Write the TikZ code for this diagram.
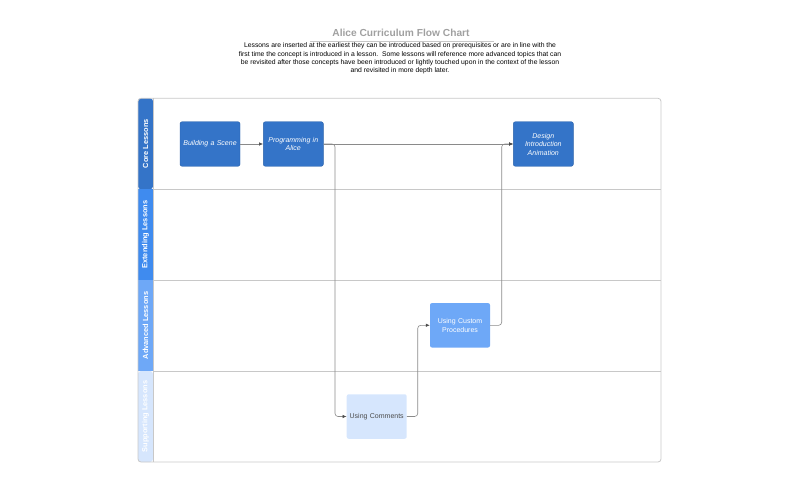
\documentclass[tikz,border=0pt]{standalone}
\usepackage{fontspec}
\setmainfont{Liberation Sans}
\usetikzlibrary{arrows.meta}
\definecolor{coreC}{HTML}{3474C8}
\definecolor{extC}{HTML}{3F8BEF}
\definecolor{advC}{HTML}{6EA8F7}
\definecolor{supC}{HTML}{D6E6FD}
\definecolor{lineC}{HTML}{C8C8C8}
\definecolor{connC}{HTML}{8A8A8A}
\definecolor{titleC}{HTML}{A0A0A0}
\tikzset{
  lesson/.style={rectangle, rounded corners=2pt, minimum width=60pt, minimum height=44.5pt, inner sep=1pt, align=center, text width=56pt, font=\fontsize{7}{8.5}\selectfont},
  corebox/.style={lesson, fill=coreC, draw=coreC!85!black, line width=0.4pt, text=white, font=\fontsize{7}{8.5}\selectfont\itshape},
  advbox/.style={lesson, fill=advC, text=white},
  supbox/.style={lesson, fill=supC, text=black!70},
  lanelabel/.style={rotate=90, text=white, font=\fontsize{7.4}{8}\selectfont\bfseries},
  conn/.style={draw=connC, line width=0.6pt, rounded corners=3pt, -{Latex[length=4pt,width=3.5pt,black!70]}},
}
\begin{document}
\begin{tikzpicture}[x=1pt,y=-1pt]
\useasboundingbox (0,0) rectangle (800,500);
% title
\node (title) at (401,33) {\fontsize{10.2}{12}\selectfont\bfseries\color{titleC}Alice Curriculum Flow Chart};
\draw[lineC, line width=0.6pt] (310,41) -- (494,41);
\node[align=center, font=\fontsize{6.8}{8.3}\selectfont] (desc) at (400,58.5) {Lessons are inserted at the earliest they can be introduced based on prerequisites or are in line with the\\first time the concept is introduced in a lesson.\ \ Some lessons will reference more advanced topics that can\\be revisited after those concepts have been introduced or lightly touched upon in the context of the lesson\\and revisited in more depth later.};
% lane headers
\fill[coreC, rounded corners=3pt] (138,189.3) -- (138,98.3) -- (153,98.3) -- (153,189.3) -- cycle;
\fill[extC] (138,189.3) rectangle (153,280);
\fill[advC] (138,280) rectangle (153,371);
\fill[supC, rounded corners=3pt] (138,371) -- (138,462) -- (153,462) -- (153,371) -- cycle;
\node[lanelabel] (l1) at (145.5,143.8) {Core Lessons};
\node[lanelabel] (l2) at (145.5,234.6) {Extending Lessons};
\node[lanelabel] (l3) at (145.5,325.5) {Advanced Lessons};
\node[lanelabel] (l4) at (145.5,416.5) {Supporting Lessons};
% frame and lane separators
\draw[lineC, line width=0.8pt, rounded corners=3pt] (138,98.3) rectangle (661,462);
\draw[lineC, line width=0.8pt] (153,98.3) -- (153,462);
\draw[lineC, line width=0.8pt] (153,189.3) -- (661,189.3);
\draw[lineC, line width=0.8pt] (153,280) -- (661,280);
\draw[lineC, line width=0.8pt] (153,371) -- (661,371);
% nodes
\node[corebox] (scene) at (210,144) {Building a Scene};
\node[corebox] (prog) at (293.3,144) {Programming in\\Alice};
\node[corebox] (design) at (543.3,144) {Design\\Introduction\\Animation};
\node[advbox] (custom) at (460,325.3) {Using Custom\\Procedures};
\node[supbox] (comments) at (376.7,416.5) {Using Comments};
% connectors
\draw[conn] (scene.east) -- (prog.west);
\draw[conn] (prog.east) -- (design.west);
\draw[conn] (prog.east) -- (335,144) -- (335,416.5) -- (comments.west);
\draw[conn] (comments.east) -- (417.7,416.5) -- (417.7,325.3) -- (custom.west);
\draw[conn] (custom.east) -- (501.7,325.3) -- (501.7,144) -- (design.west);
\end{tikzpicture}
\end{document}
